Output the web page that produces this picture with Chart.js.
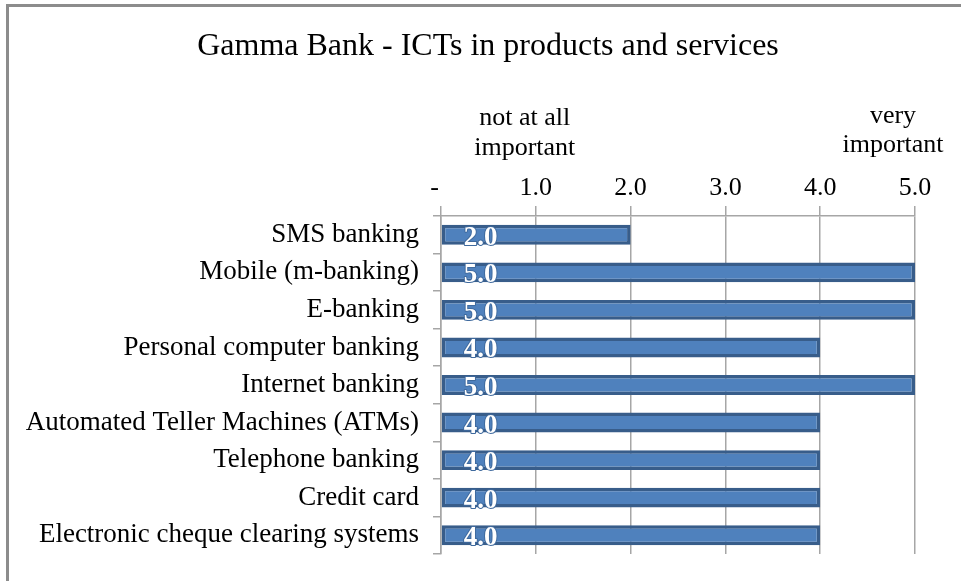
<!DOCTYPE html>
<html>
<head>
<meta charset="utf-8">
<script src="https://cdn.jsdelivr.net/npm/chart.js@4"></script>
<style>
  body { margin: 0; background: #fff; }
  #wrap { position: relative; width: 961px; height: 581px; }
</style>
</head>
<body>
<div id="wrap"><canvas id="chart" width="961" height="581"></canvas></div>
<script>
const services = [
  'SMS banking',
  'Mobile (m-banking)',
  'E-banking',
  'Personal computer banking',
  'Internet banking',
  'Automated Teller Machines (ATMs)',
  'Telephone banking',
  'Credit card',
  'Electronic cheque clearing systems'
];
const importance = [2, 5, 5, 4, 5, 4, 4, 4, 4];
const chartTitle = 'Gamma Bank - ICTs in products and services';

const serif = '"Liberation Serif", "Times New Roman", serif';

// frame, title, value labels and the scale captions
const decorations = {
  id: 'decorations',
  beforeDraw(chart) {
    const c = chart.ctx;
    c.save();
    c.fillStyle = '#8c8c8c';
    c.fillRect(6, 4, chart.width - 6, 3);
    c.fillRect(6, 4, 3, chart.height - 4);
    c.fillStyle = '#000';
    c.font = '32px ' + serif;
    c.textAlign = 'center';
    c.textBaseline = 'middle';
    c.fillText(chartTitle, 488, 47);
    c.restore();
  },
  afterDatasetsDraw(chart) {
    const c = chart.ctx;
    const meta = chart.getDatasetMeta(0);
    c.save();
    c.font = 'bold 27px ' + serif;
    c.textAlign = 'left';
    c.textBaseline = 'middle';
    c.lineJoin = 'round';
    meta.data.forEach((bar, i) => {
      const txt = importance[i].toFixed(1);
      const x = bar.base + 22;
      const y = bar.y + 3;
      c.lineWidth = 2;
      c.strokeStyle = '#3f6a9e';
      c.strokeText(txt, x, y);
      c.fillStyle = '#ffffff';
      c.fillText(txt, x, y);
    });
    c.restore();
  },
  afterDraw(chart) {
    const c = chart.ctx;
    const xs = chart.scales.x;
    c.save();
    c.font = '26px ' + serif;
    c.fillStyle = '#000';
    c.textAlign = 'center';
    c.textBaseline = 'middle';
    const left = xs.getPixelForValue(1) - 11;
    c.fillText('not at all', left, 118);
    c.fillText('important', left, 148);
    const right = xs.getPixelForValue(5) - 22;
    c.fillText('very', right, 116);
    c.fillText('important', right, 145);
    c.restore();
  }
};

new Chart(document.getElementById('chart').getContext('2d'), {
  type: 'bar',
  data: {
    labels: services,
    datasets: [{
      data: importance,
      backgroundColor: '#4f81bd',
      borderColor: '#385d8a',
      borderWidth: 3.5,
      borderSkipped: false,
      categoryPercentage: 0.53,
      barPercentage: 1
    }]
  },
  options: {
    indexAxis: 'y',
    responsive: false,
    animation: false,
    layout: { padding: { top: 170, right: 46, bottom: 27, left: 0 } },
    plugins: {
      legend: { display: false },
      tooltip: { enabled: false },
      title: { display: false }
    },
    scales: {
      x: {
        position: 'top',
        min: 0,
        max: 5,
        afterFit(scale) { scale.height = 46; },
        ticks: {
          stepSize: 1,
          color: '#000',
          font: { family: serif, size: 26 },
          padding: 2,
          callback: v => v === 0 ? '-  ' : v.toFixed(1)
        },
        grid: { color: '#a6a6a6', lineWidth: 1.5, tickLength: 10 },
        border: { color: '#a6a6a6', width: 1.5 }
      },
      y: {
        afterFit(scale) {
          scale.width = 441;
          scale.paddingTop = 0;
          scale.paddingBottom = 0;
        },
        ticks: {
          color: '#000',
          font: { family: serif, size: 27 },
          padding: 14
        },
        grid: {
          offset: true,
          drawOnChartArea: false,
          color: '#a6a6a6',
          lineWidth: 1.5,
          tickLength: 8
        },
        border: { color: '#a6a6a6', width: 1.5 }
      }
    }
  },
  plugins: [decorations]
});
</script>
</body>
</html>
